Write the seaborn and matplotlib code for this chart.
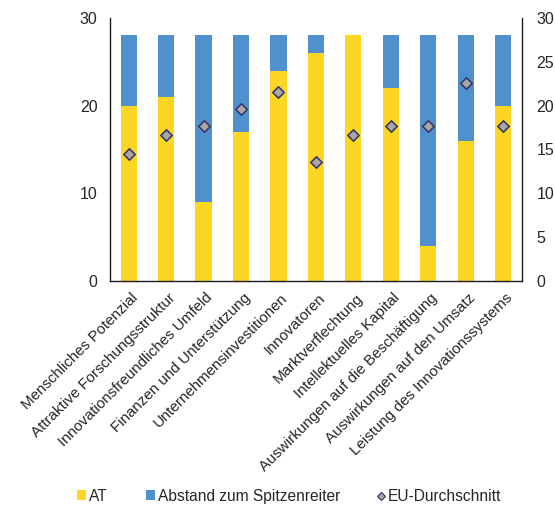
import matplotlib
matplotlib.use("Agg")
import matplotlib.pyplot as plt
import matplotlib.transforms as mtransforms
import seaborn as sns
import pandas as pd
from matplotlib.patches import Patch
from matplotlib.lines import Line2D

categories = [
    "Menschliches Potenzial",
    "Attraktive Forschungsstruktur",
    "Innovationsfreundliches Umfeld",
    "Finanzen und Unterstützung",
    "Unternehmensinvestitionen",
    "Innovatoren",
    "Marktverflechtung",
    "Intellektuelles Kapital",
    "Auswirkungen auf die Beschäftigung",
    "Auswirkungen auf den Umsatz",
    "Leistung des Innovationssystems",
]
at_values = [20, 21, 9, 17, 24, 26, 28, 22, 4, 16, 20]
gap_values = [8, 7, 19, 11, 4, 2, 0, 6, 24, 12, 8]
eu_avg = [14.5, 16.7, 17.65, 19.6, 21.6, 13.55, 16.7, 17.65, 17.65, 22.6, 17.65]
left_ticks = [0, 10, 20, 30]
right_ticks = [0, 5, 10, 15, 20, 25, 30]

sns.set_theme(style="white")
plt.rcParams["font.family"] = ["Liberation Sans", "DejaVu Sans"]
plt.rcParams["text.color"] = "#262626"

YELLOW = "#FDD624"
BLUE = "#5090CC"
TEXT = "#262626"
FS = 11.5
FS_CAT = 10.9
FS_LEG = 11.2

df = pd.DataFrame({
    "cat": categories,
    "at": at_values,
    "total": [a + g for a, g in zip(at_values, gap_values)],
    "eu": eu_avg,
})

fig = plt.figure(figsize=(5.55, 5.11), dpi=100)
ax = fig.add_axes([0.198, 0.450, 0.7425, 0.515])

sns.barplot(data=df, x="cat", y="total", color=BLUE, width=0.43, ax=ax,
            saturation=1, order=categories, linewidth=0)
sns.barplot(data=df, x="cat", y="at", color=YELLOW, width=0.43, ax=ax,
            saturation=1, order=categories, linewidth=0)

ax.set_ylim(0, 30)
ax.set_yticks(left_ticks)
ax.set_xlim(-0.5, len(categories) - 0.5)
ax.set_xlabel("")
ax.set_ylabel("")
ax.tick_params(axis="both", length=0, labelsize=FS, colors=TEXT)
ax.tick_params(axis="y", pad=9)
ax.tick_params(axis="x", pad=7)
ax.set_xticks(range(len(categories)))
ax.set_xticklabels(categories, rotation=45, ha="right", va="top",
                   rotation_mode="anchor", fontsize=FS_CAT, color=TEXT)
offset = mtransforms.ScaledTranslation(2 / 100, 0, fig.dpi_scale_trans)
for lbl in ax.get_xticklabels():
    lbl.set_transform(lbl.get_transform() + offset)
for s in ["top", "right"]:
    ax.spines[s].set_visible(False)
ax.spines["left"].set_color("#1a1a1a")
ax.spines["bottom"].set_color("#1a1a1a")
ax.spines["left"].set_linewidth(1.0)
ax.spines["bottom"].set_linewidth(1.0)

ax2 = ax.twinx()
sns.scatterplot(data=df, x="cat", y="eu", marker="D", s=34, color="#ABA5A8",
                edgecolor="#2F3366", linewidth=1.1, ax=ax2, zorder=5)
ax2.set_ylim(0, 30)
ax2.set_yticks(right_ticks)
ax2.set_ylabel("")
ax2.tick_params(axis="y", length=0, labelsize=FS, colors=TEXT, pad=10.5)
for s in ["top", "left", "bottom"]:
    ax2.spines[s].set_visible(False)
ax2.spines["right"].set_color("#1a1a1a")
ax2.spines["right"].set_linewidth(1.0)

W = 555.0
legend_items = [
    (Patch(facecolor=YELLOW, edgecolor="none", label="AT"), 77),
    (Patch(facecolor=BLUE, edgecolor="none", label="Abstand zum Spitzenreiter"), 146),
    (Line2D([0], [0], marker="D", linestyle="none", markersize=3.6,
            markerfacecolor="#ABA5A8", markeredgecolor="#2F3366",
            markeredgewidth=0.8, label="EU-Durchschnitt"), 376),
]
for handle, xpx in legend_items:
    fig.legend(handles=[handle], loc="center left",
               bbox_to_anchor=(xpx / W, 0.029), frameon=False, fontsize=FS_LEG,
               handlelength=0.58, handleheight=0.58, handletextpad=0.2,
               borderpad=0, borderaxespad=0)

fig.savefig("out.png", dpi=100)
